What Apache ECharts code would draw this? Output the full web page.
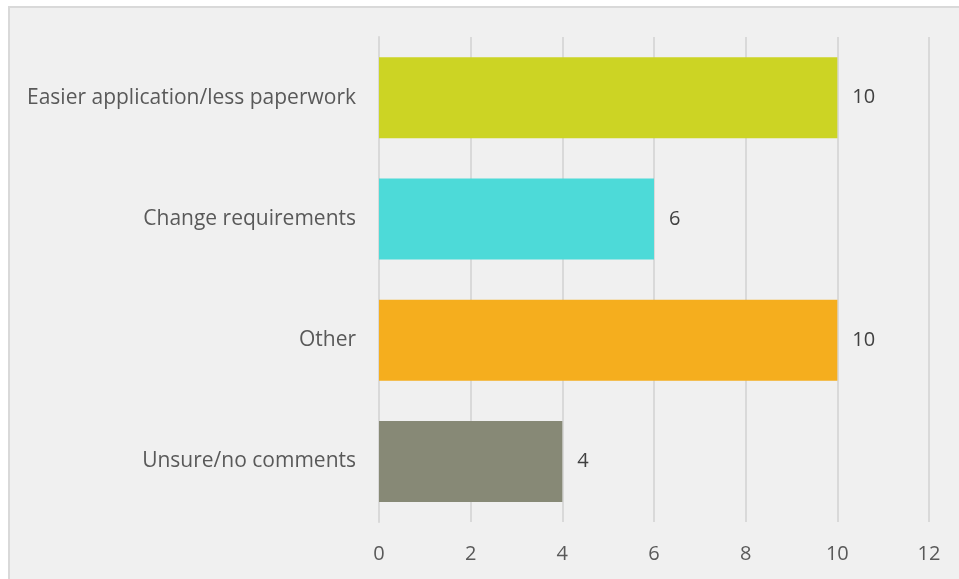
<!DOCTYPE html>
<html><head><meta charset="utf-8">
<script src="https://cdn.jsdelivr.net/npm/echarts@6/dist/echarts.min.js"></script>
<style>
html,body{margin:0;padding:0;background:#fff;overflow:hidden;}
#frame{position:absolute;left:8px;top:6px;width:1000px;height:640px;border-left:2px solid #d9d9d9;border-top:2px solid #d9d9d9;background:#f0f0f0;}
#c{position:absolute;left:0;top:0;width:959px;height:579px;}
</style></head>
<body>
<div id="frame"></div>
<div id="c"></div>
<script>
const categories = ["Easier application/less paperwork","Change requirements","Other","Unsure/no comments"];
const values = [10, 6, 10, 4];
const colors = ["#ccd424","#4ddad8","#f5ae1e","#878976"];
const xTicks = [0,2,4,6,8,10,12];

const chart = echarts.init(document.getElementById('c'));
chart.setOption({
  backgroundColor: 'transparent',
  animation: false,
  grid: {left: 379, right: 30, top: 37, bottom: 57, containLabel: false},
  xAxis: {
    type: 'value', min: xTicks[0], max: xTicks[xTicks.length-1], interval: 2,
    axisLine: {show: false}, axisTick: {show: false},
    splitLine: {show: true, lineStyle: {color: '#d9d9d9', width: 2}},
    axisLabel: {color: '#595959', fontSize: 20, fontFamily: 'Open Sans', margin: 22}
  },
  yAxis: {
    type: 'category', data: categories, inverse: true,
    axisLine: {show: true, lineStyle: {color: '#d9d9d9', width: 2}},
    axisTick: {show: false},
    axisLabel: {color: '#595959', fontSize: 21, fontFamily: 'Open Sans', margin: 23, padding: [3, 0, 0, 0]}
  },
  series: [{
    type: 'bar',
    data: values.map((v,i)=>({value:v, itemStyle:{color:colors[i]}})),
    barWidth: 81,
    label: {show: true, position: 'right', distance: 15, color: '#404040', fontSize: 20, fontFamily: 'Open Sans', padding: [3, 0, 0, 0]}
  }]
});
</script>
</body></html>
